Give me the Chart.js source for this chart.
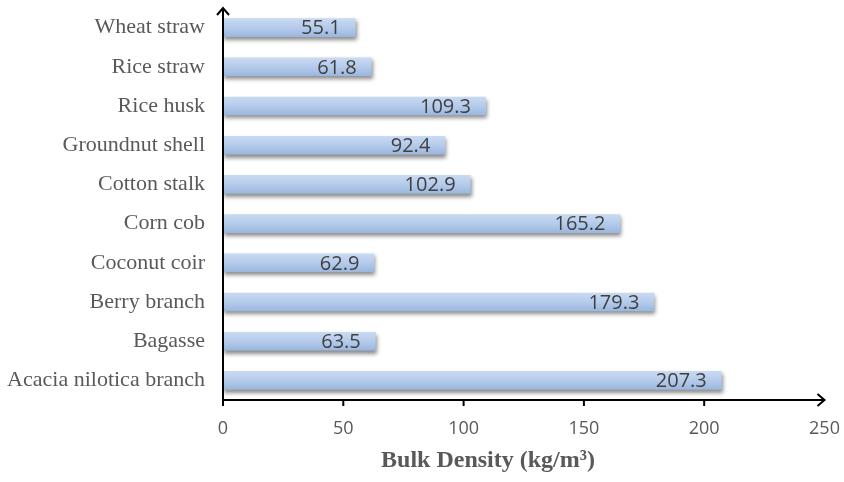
<!DOCTYPE html>
<html>
<head>
<meta charset="utf-8">
<script src="https://cdn.jsdelivr.net/npm/chart.js@4/dist/chart.umd.min.js"></script>
<style>
html,body{margin:0;padding:0;background:#fff;}
#wrap{width:844px;height:482px;}
</style>
</head>
<body>
<div id="wrap"><canvas id="c" width="844" height="482"></canvas></div>
<script>
const categories = ['Wheat straw','Rice straw','Rice husk','Groundnut shell','Cotton stalk','Corn cob','Coconut coir','Berry branch','Bagasse','Acacia nilotica branch'];
const bulkDensity = [55.1, 61.8, 109.3, 92.4, 102.9, 165.2, 62.9, 179.3, 63.5, 207.3];
const xTicks = [0, 50, 100, 150, 200, 250];
const axisTitle = 'Bulk Density (kg/m³)';

function barFill(ctx) {
  const chart = ctx.chart;
  const y = chart.scales && chart.scales.y;
  if (!y || ctx.dataIndex === undefined || !chart.chartArea) return '#b3cbe9';
  const c = y.getPixelForValue(ctx.dataIndex);
  const h = 9.4;
  const g = chart.ctx.createLinearGradient(0, c - h, 0, c + h);
  g.addColorStop(0, '#cadbf2');
  g.addColorStop(0.5, '#b5cbeb');
  g.addColorStop(1, '#9ab6de');
  return g;
}

const decor = {
  id: 'decor',
  beforeDatasetsDraw(chart) {
    const ctx = chart.ctx;
    ctx.save();
    ctx.shadowColor = 'rgba(0,0,0,0.45)';
    ctx.shadowBlur = 4;
    ctx.shadowOffsetX = 1;
    ctx.shadowOffsetY = 3;
  },
  afterDatasetsDraw(chart) {
    const ctx = chart.ctx;
    ctx.restore();
    const xs = chart.scales.x;
    const x0 = xs.getPixelForValue(0);
    const xEnd = xs.getPixelForValue(250);
    const yb = chart.chartArea.bottom;
    // data labels
    const meta = chart.getDatasetMeta(0);
    ctx.save();
    ctx.font = '20px "Open Sans"';
    ctx.fillStyle = '#404040';
    ctx.textAlign = 'right';
    ctx.textBaseline = 'middle';
    meta.data.forEach((bar, i) => {
      ctx.fillText(bulkDensity[i].toFixed(1), bar.x - 15, bar.y + 1);
    });
    ctx.restore();
    // axes
    ctx.save();
    ctx.strokeStyle = '#000';
    ctx.lineWidth = 2;
    ctx.beginPath();
    ctx.moveTo(x0, yb + 6);
    ctx.lineTo(x0, 8);
    ctx.moveTo(x0 - 1, yb);
    ctx.lineTo(xEnd, yb);
    xTicks.forEach(v => {
      const px = xs.getPixelForValue(v);
      if (v > 0 && v < 250) { ctx.moveTo(px, yb); ctx.lineTo(px, yb + 6); }
    });
    ctx.stroke();
    ctx.beginPath();
    ctx.moveTo(x0 - 6, 15);
    ctx.lineTo(x0, 8);
    ctx.lineTo(x0 + 6, 15);
    ctx.moveTo(xEnd - 7, yb - 6);
    ctx.lineTo(xEnd, yb);
    ctx.lineTo(xEnd - 7, yb + 6);
    ctx.stroke();
    // axis title
    ctx.font = 'bold 24px "Liberation Serif"';
    ctx.fillStyle = '#595959';
    ctx.textAlign = 'center';
    ctx.textBaseline = 'alphabetic';
    ctx.fillText(axisTitle, 488, 467);
    ctx.restore();
  }
};

new Chart(document.getElementById('c'), {
  type: 'bar',
  data: {
    labels: categories,
    datasets: [{
      data: bulkDensity,
      backgroundColor: barFill,
      borderWidth: 0,
      barPercentage: 0.95,
      categoryPercentage: 0.5
    }]
  },
  options: {
    indexAxis: 'y',
    responsive: false,
    animation: false,
    devicePixelRatio: 1,
    layout: { padding: { left: 0, top: 8, right: 19.5, bottom: 0 } },
    plugins: { legend: { display: false }, tooltip: { enabled: false } },
    scales: {
      x: {
        min: 0, max: 250,
        grid: { display: false, drawTicks: false },
        border: { display: false },
        afterBuildTicks(scale) { scale.ticks = xTicks.map(v => ({ value: v })); },
        afterFit(scale) { scale.height = 82; scale.paddingLeft = 0; scale.paddingRight = 0; },
        ticks: {
          padding: 18,
          color: '#595959',
          font: { family: '"Open Sans"', size: 18 }
        }
      },
      y: {
        grid: { display: false, drawTicks: false },
        border: { display: false },
        afterFit(scale) { scale.width = 223; scale.paddingTop = 0; scale.paddingBottom = 0; },
        ticks: {
          padding: 18,
          color: '#595959',
          font: { family: '"Liberation Serif"', size: 22 }
        }
      }
    }
  },
  plugins: [decor]
});
</script>
</body>
</html>
